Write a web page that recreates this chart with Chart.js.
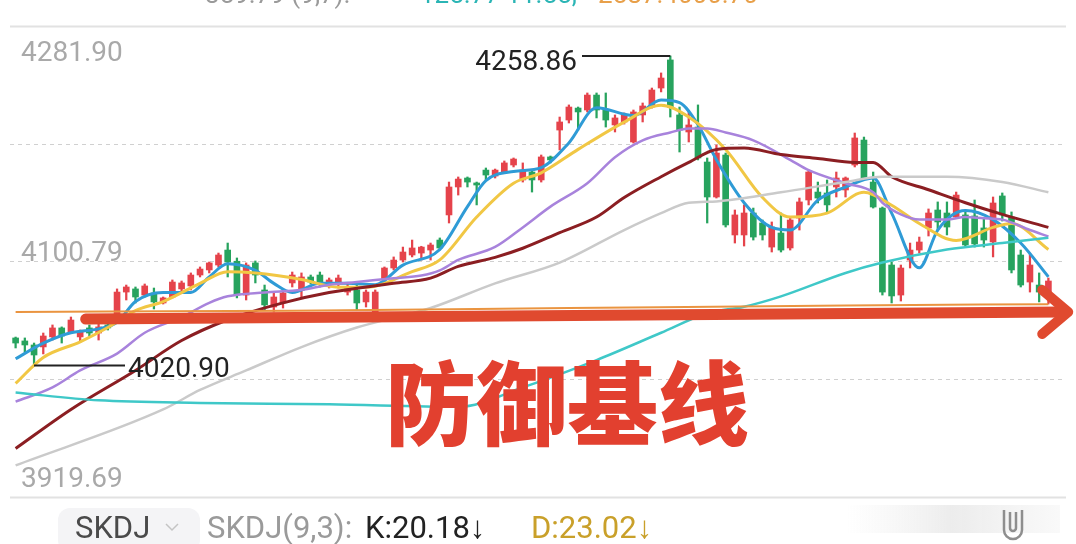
<!DOCTYPE html>
<html>
<head>
<meta charset="utf-8">
<script src="https://cdn.jsdelivr.net/npm/chart.js@4.4.0/dist/chart.umd.min.js"></script>
<style>
  html, body { margin: 0; padding: 0; background: #fff; }
  #wrap { width: 1076px; height: 544px; }
</style>
</head>
<body>
<div id="wrap"><canvas id="kline" width="1076" height="544"></canvas></div>
<script>
// 每根K线: [开, 高, 低, 收]
const candles = [
  [4042.0, 4042.7, 4034.3, 4038.1], [4039.7, 4042.0, 4031.2, 4036.6], [4036.6, 4038.1, 4020.9, 4028.9],
  [4035.1, 4045.8, 4029.7, 4043.5], [4042.8, 4052.0, 4040.4, 4049.7], [4049.7, 4050.5, 4038.1, 4043.5],
  [4046.6, 4058.1, 4045.8, 4055.8], [4042.8, 4048.1, 4038.9, 4046.6], [4049.7, 4052.0, 4043.5, 4045.8],
  [4045.8, 4053.5, 4040.4, 4050.5], [4052.0, 4053.5, 4048.1, 4049.7], [4057.4, 4079.7, 4054.3, 4077.3],
  [4077.3, 4082.7, 4071.2, 4081.2], [4079.7, 4081.2, 4068.9, 4073.5], [4075.0, 4083.5, 4073.5, 4082.0],
  [4076.6, 4080.4, 4064.3, 4069.7], [4068.9, 4073.5, 4068.1, 4072.8], [4073.5, 4086.6, 4072.8, 4085.0],
  [4079.7, 4085.8, 4077.3, 4084.3], [4082.0, 4092.0, 4078.9, 4090.4], [4090.4, 4096.6, 4088.9, 4095.0],
  [4094.3, 4100.4, 4092.0, 4099.7], [4098.1, 4107.3, 4096.6, 4105.8], [4109.6, 4115.0, 4088.9, 4100.4],
  [4101.0, 4103.5, 4072.8, 4075.0], [4075.0, 4099.7, 4071.2, 4098.1], [4099.7, 4101.2, 4084.3, 4090.4],
  [4078.9, 4082.7, 4063.5, 4067.4], [4065.8, 4077.3, 4062.0, 4073.5], [4068.9, 4078.9, 4065.0, 4076.6],
  [4084.3, 4092.7, 4081.2, 4090.4], [4078.9, 4092.0, 4073.5, 4088.9], [4088.9, 4090.4, 4083.5, 4085.0],
  [4090.4, 4092.7, 4081.2, 4085.0], [4084.3, 4088.1, 4080.4, 4086.6], [4084.3, 4090.4, 4080.4, 4088.1],
  [4077.3, 4083.5, 4075.0, 4081.2], [4078.9, 4084.3, 4063.5, 4068.9], [4069.7, 4078.9, 4065.8, 4077.3],
  [4062.0, 4078.9, 4060.4, 4077.3], [4087.3, 4096.6, 4085.0, 4095.8], [4095.8, 4104.3, 4094.3, 4101.9],
  [4101.9, 4111.9, 4100.4, 4108.1], [4105.8, 4117.3, 4104.3, 4111.2], [4107.3, 4112.5, 4101.9, 4111.9],
  [4109.6, 4115.0, 4101.9, 4113.5], [4117.3, 4118.9, 4109.6, 4111.2], [4136.6, 4161.9, 4130.4, 4158.1],
  [4158.1, 4165.8, 4151.9, 4164.2], [4165.0, 4165.8, 4158.1, 4161.9], [4161.2, 4161.9, 4144.3, 4159.6],
  [4171.1, 4172.7, 4163.5, 4167.3], [4166.5, 4171.9, 4165.0, 4171.1], [4169.6, 4178.1, 4168.8, 4176.6],
  [4175.0, 4180.4, 4173.5, 4179.6], [4163.5, 4176.6, 4161.9, 4171.1], [4169.6, 4171.1, 4154.2, 4163.5],
  [4163.5, 4182.7, 4161.9, 4181.2], [4181.2, 4181.9, 4176.6, 4178.9], [4201.9, 4211.9, 4186.6, 4208.1],
  [4209.6, 4221.2, 4207.3, 4219.6], [4218.8, 4219.6, 4201.9, 4215.8], [4217.3, 4230.4, 4215.8, 4228.8],
  [4228.8, 4230.4, 4211.2, 4217.3], [4217.3, 4230.4, 4204.2, 4209.6], [4205.8, 4213.5, 4200.4, 4211.2],
  [4208.1, 4215.0, 4206.5, 4213.5], [4192.7, 4217.3, 4191.9, 4215.8], [4213.5, 4222.7, 4208.1, 4220.4],
  [4219.6, 4234.2, 4218.8, 4232.7], [4234.2, 4245.8, 4231.2, 4241.9], [4255.8, 4258.86, 4211.9, 4219.6],
  [4213.5, 4219.6, 4185.0, 4201.9], [4200.4, 4215.8, 4192.7, 4205.8], [4204.2, 4221.2, 4178.9, 4180.4],
  [4177.3, 4180.4, 4130.4, 4150.4], [4150.4, 4190.4, 4149.6, 4184.2], [4182.7, 4184.2, 4127.3, 4128.9],
  [4121.2, 4140.4, 4115.0, 4136.6], [4121.2, 4144.3, 4112.7, 4138.1], [4138.1, 4141.9, 4117.3, 4119.6],
  [4130.4, 4132.7, 4117.3, 4121.2], [4111.9, 4131.2, 4108.1, 4127.3], [4122.7, 4138.1, 4108.1, 4109.6],
  [4111.2, 4134.2, 4109.6, 4132.7], [4134.2, 4149.6, 4125.0, 4146.6], [4148.1, 4171.1, 4144.3, 4169.6],
  [4154.2, 4161.9, 4145.8, 4149.6], [4153.5, 4163.5, 4138.9, 4144.3], [4158.1, 4169.6, 4150.4, 4165.0],
  [4155.8, 4165.8, 4150.4, 4165.0], [4175.0, 4199.6, 4173.5, 4195.8], [4194.2, 4196.5, 4163.5, 4165.0],
  [4161.9, 4169.6, 4141.9, 4142.7], [4141.9, 4142.7, 4075.0, 4077.3], [4098.1, 4100.4, 4068.9, 4074.3],
  [4075.0, 4098.1, 4070.4, 4095.8], [4101.9, 4115.0, 4095.8, 4109.6], [4109.6, 4119.6, 4107.3, 4115.8],
  [4126.6, 4141.2, 4120.4, 4138.1], [4140.4, 4146.6, 4125.0, 4131.2], [4138.1, 4146.6, 4121.2, 4127.3],
  [4135.0, 4154.2, 4134.2, 4151.9], [4136.6, 4140.4, 4111.9, 4113.5], [4135.8, 4148.1, 4111.9, 4114.3],
  [4126.6, 4134.2, 4111.9, 4117.3], [4115.8, 4150.4, 4104.3, 4145.8], [4151.2, 4153.5, 4131.9, 4136.6],
  [4135.0, 4138.9, 4092.0, 4094.3], [4105.8, 4109.6, 4081.2, 4082.7], [4085.0, 4107.3, 4077.3, 4098.1],
  [4082.7, 4092.0, 4069.7, 4077.3], [4077.3, 4088.1, 4068.1, 4085.8]
];

// 均线读数 [K线序号, 数值]
const ma5 = [[0,4026],[3,4038],[6,4046],[9,4049],[11,4054],[13,4070],[16,4077],[19,4077],[21,4089],[23,4099],
  [26,4094],[28,4084],[30,4077],[33,4084],[36,4084],[39,4083],[42,4098],[46,4110],[49,4143],[51,4163],[54,4170],
  [57,4173],[60,4192],[63,4219],[67,4213],[70,4225],[72,4223],[74,4206],[76,4179],[79,4146],[82,4127],[84,4125],
  [87,4148],[90,4158],[93,4165],[95,4138],[98,4096],[100,4125],[103,4140],[106,4133],[109,4115],[112,4089]];
const ma10 = [[0,4007],[3,4027],[7,4039],[10,4050],[13,4063],[16,4070],[20,4084],[23,4093],[26,4092],[31,4087],
  [35,4081],[38,4081],[43,4093],[46,4102],[50,4135],[54,4161],[57,4169],[61,4187],[66,4208],[70,4221],[73,4212],
  [77,4187],[81,4150],[84,4135],[88,4138],[92,4154],[95,4144],[98,4130],[102,4117],[106,4127],[108,4130],[112,4110]];
const ma20 = [[0,3993],[4,4004],[7,4017],[11,4030],[14,4046],[18,4058],[21,4069],[23,4074],[27,4077],[31,4079],
  [34,4083],[37,4085],[41,4088],[44,4090],[46,4094],[48,4102],[52,4112],[55,4127],[58,4143],[62,4161],[65,4181],
  [68,4194],[71,4200],[73,4203],[75,4203],[77,4200],[80,4194],[84,4179],[86,4171],[90,4161],[93,4154],[94,4146],
  [96,4137],[98,4133],[101,4133],[103,4135],[105,4134],[107,4133],[110,4125],[112,4120]];
const ma60 = [[0,3957],[6,3987],[13,4017],[18,4040],[23,4056],[29,4069],[34,4077],[41,4084],[45,4088],[48,4097],
  [52,4104],[55,4111],[59,4123],[63,4135],[66,4150],[70,4166],[73,4177],[76,4187],[79,4188],[83,4183],[87,4180],
  [91,4177],[93,4177],[95,4166],[99,4156],[103,4146],[107,4137],[112,4127]];
const ma120 = [[0,3944],[16,3987],[20,4002],[25,4017],[31,4035],[37,4050],[45,4065],[52,4084],[59,4100],[66,4125],
  [70,4138],[73,4146],[76,4147],[83,4154],[90,4162],[94,4166],[101,4166],[107,4162],[112,4154]];
const ma250 = [[0,4000],[9,3994],[20,3992],[34,3991],[48,3989],[55,4004],[63,4025],[70,4046],[75,4061],[79,4066],
  [83,4074],[90,4092],[94,4100],[101,4110],[107,4115],[112,4119]];
const maLong = [[0,4062],[30,4063],[60,4065],[90,4067],[112,4068]];

const yMin = 3919.69, yMax = 4281.90;
const yTickLabels = ["4281.90", "4100.79", "3919.69"];
const highMark = { index: 71, value: 4258.86, text: "4258.86" };
const lowMark = { index: 2, value: 4020.90, text: "4020.90" };
const baseArrow = { from: [7.6, 4056.5], to: [113.5, 4062.0] };

const RED = "#E5434B";
const GREEN = "#27A35E";
const labels = candles.map((c, i) => i);

function sparse(pairs) {
  const arr = new Array(candles.length).fill(null);
  pairs.forEach(([i, v]) => { arr[i] = v; });
  return arr;
}
function maLine(pairs, color, width) {
  return {
    type: "line",
    data: sparse(pairs),
    borderColor: color,
    borderWidth: width,
    pointRadius: 0,
    spanGaps: true,
    cubicInterpolationMode: "monotone",
    order: 0,
  };
}

const candleColors = candles.map((c) => (c[3] >= c[0] ? RED : GREEN));

const overlay = {
  id: "overlay",
  beforeDatasetsDraw(chart) {
    const { ctx } = chart;
    const y = chart.scales.y;
    ctx.save();
    const steps = [0, 0.25, 0.5, 0.75, 1];
    steps.forEach((s, k) => {
      const py = Math.round(y.getPixelForValue(yMax - (yMax - yMin) * s)) + 0.5;
      ctx.beginPath();
      if (k === 0 || k === 4) {
        ctx.setLineDash([]);
        ctx.strokeStyle = "#E2E2E2";
        ctx.lineWidth = 2;
      } else {
        ctx.setLineDash([4, 4]);
        ctx.strokeStyle = "#D0D0D0";
        ctx.lineWidth = 1;
      }
      ctx.moveTo(10, py);
      ctx.lineTo(1066, py);
      ctx.stroke();
    });
    ctx.restore();
  },
  afterDatasetsDraw(chart) {
    const { ctx } = chart;
    const x = chart.scales.x;
    const y = chart.scales.y;
    ctx.save();

    // 防御基线 箭头
    const x1 = x.getPixelForValue(baseArrow.from[0]);
    const y1 = y.getPixelForValue(baseArrow.from[1]);
    const x2 = x.getPixelForValue(baseArrow.to[0]);
    const y2 = y.getPixelForValue(baseArrow.to[1]);
    ctx.strokeStyle = "#E04A2F";
    ctx.lineCap = "round";
    ctx.lineJoin = "round";
    ctx.lineWidth = 11;
    ctx.beginPath();
    ctx.moveTo(x1, y1);
    ctx.lineTo(x2, y2);
    ctx.stroke();
    ctx.lineWidth = 10;
    ctx.beginPath();
    ctx.moveTo(x2 - 20, y2 - 22);
    ctx.lineTo(x2 + 6, y2);
    ctx.lineTo(x2 - 20, y2 + 22);
    ctx.stroke();

    ctx.fillStyle = "#E2402F";
    ctx.font = "900 91px 'Noto Sans CJK SC'";
    ctx.textAlign = "center";
    ctx.textBaseline = "middle";
    ctx.fillText("防御基线", 567, 403);

    // 最高/最低标注
    ctx.strokeStyle = "#222";
    ctx.lineWidth = 2;
    ctx.lineCap = "butt";
    const hx = x.getPixelForValue(highMark.index);
    const hy = y.getPixelForValue(highMark.value);
    ctx.beginPath();
    ctx.moveTo(582, hy);
    ctx.lineTo(hx, hy);
    ctx.stroke();
    const lx = x.getPixelForValue(lowMark.index);
    const ly = y.getPixelForValue(lowMark.value);
    ctx.beginPath();
    ctx.moveTo(lx, ly);
    ctx.lineTo(125, ly);
    ctx.stroke();
    ctx.fillStyle = "#222";
    ctx.font = "28px Roboto";
    ctx.textBaseline = "middle";
    ctx.textAlign = "right";
    ctx.fillText(highMark.text, 577, hy + 7);
    ctx.textAlign = "left";
    ctx.fillText(lowMark.text, 128, ly + 5);

    // 纵轴刻度
    ctx.fillStyle = "#A9A9A9";
    ctx.fillText(yTickLabels[0], 21, y.getPixelForValue(yMax) + 28);
    ctx.fillText(yTickLabels[1], 21, y.getPixelForValue((yMax + yMin) / 2) - 8);
    ctx.fillText(yTickLabels[2], 21, y.getPixelForValue(yMin) - 17);
    ctx.restore();
  },
  afterDraw(chart) {
    const { ctx } = chart;
    ctx.save();
    // 顶部被裁切的指标行
    ctx.font = "26px Roboto";
    ctx.textBaseline = "alphabetic";
    ctx.textAlign = "left";
    ctx.fillStyle = "#9A9A9A";
    ctx.fillText("359.79 (9,7):", 205, 3);
    ctx.fillStyle = "#2BB5B5";
    ctx.fillText("125.77 11.55,", 420, 3);
    ctx.fillStyle = "#E8A04A";
    ctx.fillText("2587.4000.70", 598, 3);

    // 底部指标栏
    ctx.fillStyle = "#F4F4F6";
    ctx.beginPath();
    ctx.roundRect(58, 508, 142, 44, 12);
    ctx.fill();
    ctx.font = "31px Roboto";
    ctx.textBaseline = "middle";
    ctx.fillStyle = "#4A4A4A";
    ctx.fillText("SKDJ", 75, 530);
    ctx.strokeStyle = "#C4C4C4";
    ctx.lineWidth = 1.5;
    ctx.beginPath();
    ctx.moveTo(166, 524);
    ctx.lineTo(172, 530);
    ctx.lineTo(178, 524);
    ctx.stroke();
    ctx.fillStyle = "#9A9A9A";
    ctx.fillText("SKDJ(9,3):", 207, 530);
    ctx.fillStyle = "#222";
    ctx.fillText("K:20.18\u2193", 365, 530);
    ctx.fillStyle = "#C9A02A";
    ctx.fillText("D:23.02\u2193", 531, 530);

    const g = ctx.createLinearGradient(845, 0, 1060, 0);
    g.addColorStop(0, "rgba(235,235,235,0)");
    g.addColorStop(0.5, "rgba(228,228,228,0.7)");
    g.addColorStop(1, "rgba(235,235,235,0.3)");
    ctx.fillStyle = g;
    ctx.fillRect(845, 505, 215, 28);
    ctx.strokeStyle = "#8E8E8E";
    ctx.lineWidth = 2.5;
    ctx.beginPath();
    ctx.moveTo(1004, 510);
    ctx.lineTo(1004, 530);
    ctx.arc(1013, 530, 9, Math.PI, 0, true);
    ctx.lineTo(1022, 510);
    ctx.stroke();
    ctx.beginPath();
    ctx.moveTo(1010, 512);
    ctx.lineTo(1010, 528);
    ctx.arc(1013, 528, 3, Math.PI, 0, true);
    ctx.lineTo(1016, 512);
    ctx.stroke();
    ctx.restore();
  },
};

new Chart(document.getElementById("kline"), {
  type: "bar",
  data: {
    labels: labels,
    datasets: [
      maLine(maLong, "#EA9440", 2),
      maLine(ma250, "#3FC8C8", 2.5),
      maLine(ma120, "#CACACA", 2.5),
      maLine(ma60, "#8B1E22", 3),
      maLine(ma20, "#A883DC", 2.5),
      maLine(ma10, "#F1C744", 3),
      maLine(ma5, "#2F9BD6", 3),
      {
        // 影线
        data: candles.map((c) => [c[2], c[1]]),
        backgroundColor: candleColors,
        barThickness: 1.6,
        grouped: false,
        order: 2,
      },
      {
        // 实体
        data: candles.map((c) => [Math.min(c[0], c[3]), Math.max(c[0], c[3])]),
        backgroundColor: candleColors,
        barThickness: 6,
        minBarLength: 2,
        grouped: false,
        order: 1,
      },
    ],
  },
  options: {
    responsive: false,
    animation: false,
    layout: { padding: { left: 11, right: 23, top: 26, bottom: 47 } },
    plugins: { legend: { display: false }, tooltip: { enabled: false } },
    scales: {
      x: { display: false, offset: true },
      y: { display: false, min: yMin, max: yMax },
    },
  },
  plugins: [overlay],
});
</script>
</body>
</html>
